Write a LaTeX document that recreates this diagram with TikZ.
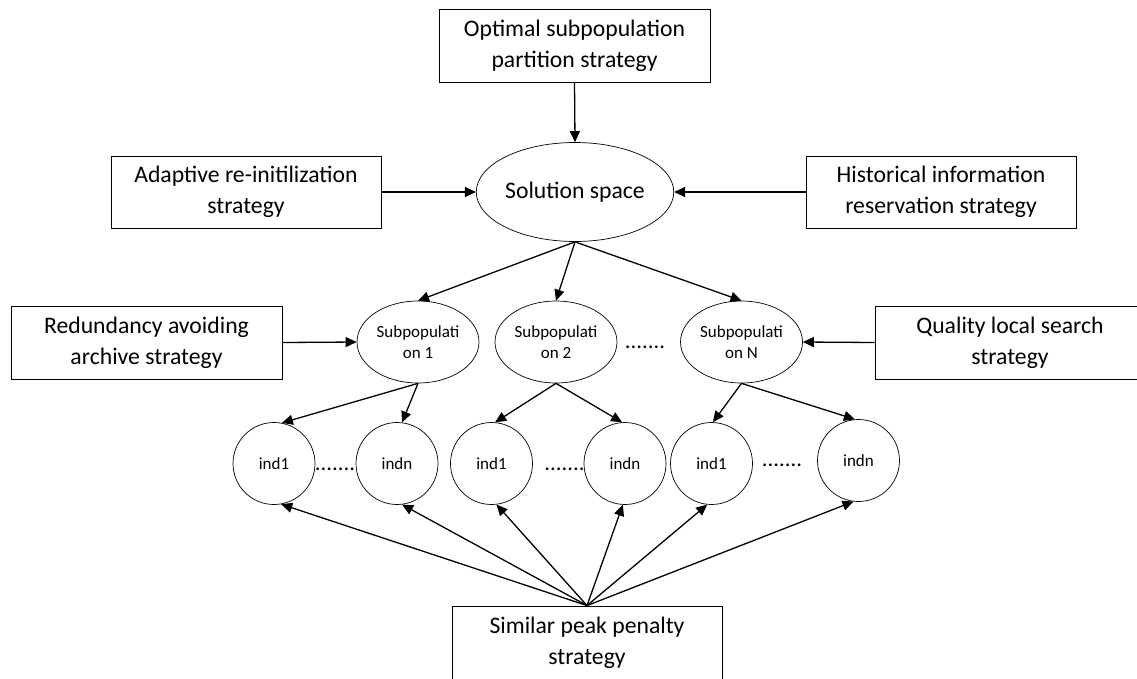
\documentclass[tikz,border=0pt]{standalone}
\usepackage{fontspec}
\setmainfont{Carlito}
\usetikzlibrary{arrows.meta,shapes.geometric}
\begin{document}
\begin{tikzpicture}[x=1pt,y=-1pt,
  box/.style={draw, line width=0.9pt, rectangle, inner sep=0pt,
    minimum width=270pt, minimum height=73pt, align=center,
    font=\fontsize{23.7}{31}\selectfont},
  oval/.style={draw, line width=0.7pt, ellipse, inner sep=0pt, align=center,
    minimum width=122pt, minimum height=82pt,
    font=\fontsize{17}{21}\selectfont},
  ind/.style={draw, line width=0.7pt, circle, inner sep=0pt,
    minimum size=82pt, font=\fontsize{17}{21}\selectfont},
  dots/.style={inner sep=0pt, font=\fontsize{22.7}{24}\selectfont},
  link/.style={line width=1.3pt, -{Triangle[length=11pt,width=10pt]}}
]
\useasboundingbox (0,0) rectangle (1137,678);
\clip (0,0) rectangle (1137,678);

% strategy boxes
\node[box, minimum width=271pt] (opt) at (574.5,45.5) {Optimal subpopulation\\partition strategy};
\node[box, minimum height=72pt] (ada) at (246,192) {Adaptive re-initilization\\strategy};
\node[box, minimum height=72pt] (his) at (941,192) {Historical information\\reservation strategy};
\node[box, minimum width=271pt] (red) at (146.5,342.5) {Redundancy avoiding\\archive strategy};
\node[box] (qua) at (1010,342.5) {Quality local search\\strategy};
\node[box, minimum height=74pt] (sim) at (587,643) {Similar peak penalty\\strategy};

% solution space and subpopulations
\node[oval, minimum width=194pt, minimum height=99pt,
  font=\fontsize{23.7}{31}\selectfont] (sol) at (575,192) {Solution space};
\node[oval] (sp1) at (418,342) {Subpopulati\\on 1};
\node[oval] (sp2) at (556,342) {Subpopulati\\on 2};
\node[oval] (spn) at (741.5,342) {Subpopulati\\on N};
\node[dots] (d0) at (645,347) {.......};

% individuals
\node[ind] (i11) at (274,463.5) {ind1};
\node[ind] (i1n) at (397,463.5) {indn};
\node[ind] (i21) at (491.5,463.5) {ind1};
\node[ind] (i2n) at (625,463.5) {indn};
\node[ind] (i31) at (711.5,463.5) {ind1};
\node[ind] (i3n) at (858.5,460.5) {indn};
\node[dots] (d1) at (335,469) {.......};
\node[dots] (d2) at (564.5,469) {.......};
\node[dots] (d3) at (782,465) {.......};

% connectors into the solution space
\draw[link] (opt.south) -- (sol.north);
\draw[link] (ada.east) -- (sol.west);
\draw[link] (his.west) -- (sol.east);

% solution space to subpopulations
\draw[link] (sol.south) -- (sp1.north);
\draw[link] (sol.south) -- (sp2.north);
\draw[link] (sol.south) -- (spn.north);
\draw[link] (red.east) -- (sp1.west);
\draw[link] (qua.west) -- (spn.east);

% subpopulations to individuals
\draw[link] (sp1.south) -- (i11.79);
\draw[link] (sp1.south) -- (i1n.83);
\draw[link] (sp2.south) -- (i21.85);
\draw[link] (sp2.south) -- (i2n.94);
\draw[link] (spn.south) -- (i31.88);
\draw[link] (spn.south) -- (i3n.95);

% penalty strategy to individuals
\draw[link] (sim.north) -- (i11.-80);
\draw[link] (sim.north) -- (i1n.-83);
\draw[link] (sim.north) -- (i21.-83);
\draw[link] (sim.north) -- (i2n.-93);
\draw[link] (sim.north) -- (i31.-96);
\draw[link] (sim.north) -- (i3n.-97);
\end{tikzpicture}
\end{document}
